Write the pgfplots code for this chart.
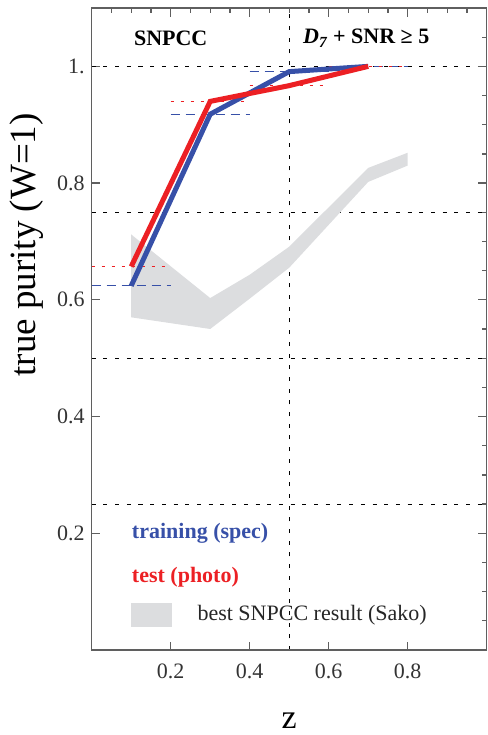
\documentclass[border=0pt]{standalone}
\usepackage{fontspec}
\setmainfont{Liberation Serif}
\usepackage{pgfplots}
\pgfplotsset{compat=1.18}

\definecolor{specblue}{RGB}{55,80,168}
\definecolor{photored}{RGB}{236,32,36}
\definecolor{sakogray}{RGB}{220,221,223}
\definecolor{framegray}{RGB}{95,95,95}

\pgfplotsset{
  purityframe/.style={
    width=197.5pt, height=321pt, scale only axis,
    xmin=0, xmax=1, ymin=0, ymax=1.1,
    axis line style={framegray, line width=0.6pt},
    every tick/.style={framegray, line width=0.6pt},
  },
}

\begin{document}
\begin{tikzpicture}
% main frame: data, labels, ticks on bottom and left
\begin{axis}[purityframe,
    xtick={0.2,0.4,0.6,0.8}, xticklabels={0.2,0.4,0.6,0.8},
    ytick={0.2,0.4,0.6,0.8,1}, yticklabels={0.2,0.4,0.6,0.8,1.},
    xtick pos=left, ytick pos=left,
    major tick length=4pt,
    tick label style={font=\fontsize{11}{13}\selectfont, text=black!80},
    xticklabel style={yshift=-3.5pt},
    extra x ticks={0.5}, extra x tick labels={\empty},
    extra y ticks={0.25,0.5,0.75,1}, extra y tick labels={\empty,\empty,\empty,\empty},
    extra tick style={grid=major, major tick length=0pt,
      major grid style={black, line width=0.5pt, dash pattern=on 2pt off 3.85pt}},
    xlabel={z}, ylabel={true purity (W=1)},
    every axis x label/.style={at={([yshift=-35.5pt]rel axis cs:0.5,0)}, anchor=center,
      font=\fontsize{17}{19}\selectfont},
    every axis y label/.style={at={([xshift=-32.3pt]rel axis cs:0,0.631)}, anchor=center,
      rotate=90, font=\fontsize{18.5}{20}\selectfont},
  ]
  \coordinate (bl) at (rel axis cs:0,0);
  \coordinate (tr) at (rel axis cs:1,1);

  % best SNPCC result (Sako): band between lower and upper purity
  \addplot[fill=sakogray, draw=none] coordinates {
    (0.1,0.712) (0.3,0.603) (0.4,0.643) (0.5,0.691) (0.7,0.826) (0.8,0.852)
    (0.8,0.830) (0.7,0.802) (0.5,0.655) (0.4,0.602) (0.3,0.550) (0.1,0.570)
  } -- cycle;

  % per-bin levels, training sample
  \addplot[specblue, line width=0.55pt, dash pattern=on 4.5pt off 3pt] coordinates {(0,0.624) (0.2,0.624)};
  \addplot[specblue, line width=0.55pt, dash pattern=on 4.5pt off 3pt] coordinates {(0.2,0.918) (0.4,0.918)};
  \addplot[specblue, line width=0.55pt, dash pattern=on 4.5pt off 3pt] coordinates {(0.4,0.991) (0.6,0.991)};
  \addplot[specblue, line width=0.55pt, dash pattern=on 4.5pt off 3pt] coordinates {(0.6,1.0) (0.8,1.0)};
  % per-bin levels, test sample
  \addplot[photored, line width=0.55pt, dash pattern=on 1.5pt off 3.5pt] coordinates {(0,0.657) (0.2,0.657)};
  \addplot[photored, line width=0.55pt, dash pattern=on 1.5pt off 3.5pt] coordinates {(0.2,0.940) (0.4,0.940)};
  \addplot[photored, line width=0.55pt, dash pattern=on 1.5pt off 3.5pt] coordinates {(0.4,0.967) (0.6,0.967)};
  \addplot[photored, line width=0.55pt, dash pattern=on 1.5pt off 3.5pt] coordinates {(0.6,1.0) (0.8,1.0)};

  % training (spec)
  \addplot[specblue, line width=2.5pt] coordinates {(0.1,0.624) (0.3,0.918) (0.5,0.991) (0.7,1.0)};
  % test (photo)
  \addplot[photored, line width=2.5pt] coordinates {(0.1,0.657) (0.3,0.940) (0.5,0.967) (0.7,1.0)};

  \node[font=\bfseries\fontsize{11}{13}\selectfont] at (axis cs:0.2,1.048) {SNPCC};
  \node[font=\bfseries\fontsize{11}{13}\selectfont] at (axis cs:0.695,1.048)
    {\textit{D\textsubscript{7}} + SNR ≥ 5};

  \node[anchor=west, inner sep=0pt, text=specblue, font=\bfseries\fontsize{11}{13}\selectfont]
    at (axis cs:0.101,0.2007) {training (spec)};
  \node[anchor=west, inner sep=0pt, text=photored, font=\bfseries\fontsize{11}{13}\selectfont]
    at (axis cs:0.101,0.125) {test (photo)};
  \fill[sakogray] (axis cs:0.099,0.0395) rectangle (axis cs:0.2025,0.0806);
  \node[anchor=west, inner sep=0pt, text=black!85, font=\fontsize{11}{13}\selectfont]
    at (axis cs:0.267,0.060) {best SNPCC result (Sako)};
\end{axis}

% ticks on top and right, with minor divisions
\begin{axis}[purityframe,
    xtick={0.2,0.4,0.6,0.8}, ytick={0.2,0.4,0.6,0.8,1},
    minor xtick={0.05,0.1,...,0.96}, minor ytick={0.05,0.1,...,1.06},
    xtick pos=right, ytick pos=right,
    xticklabels={}, yticklabels={},
    major tick length=4.5pt, minor tick length=2.5pt,
  ]
\end{axis}

\pgfresetboundingbox
\path[use as bounding box] ([shift={(-45.85pt,-42.5pt)}]bl) rectangle ([shift={(0.3pt,4pt)}]tr);
\end{tikzpicture}
\end{document}
